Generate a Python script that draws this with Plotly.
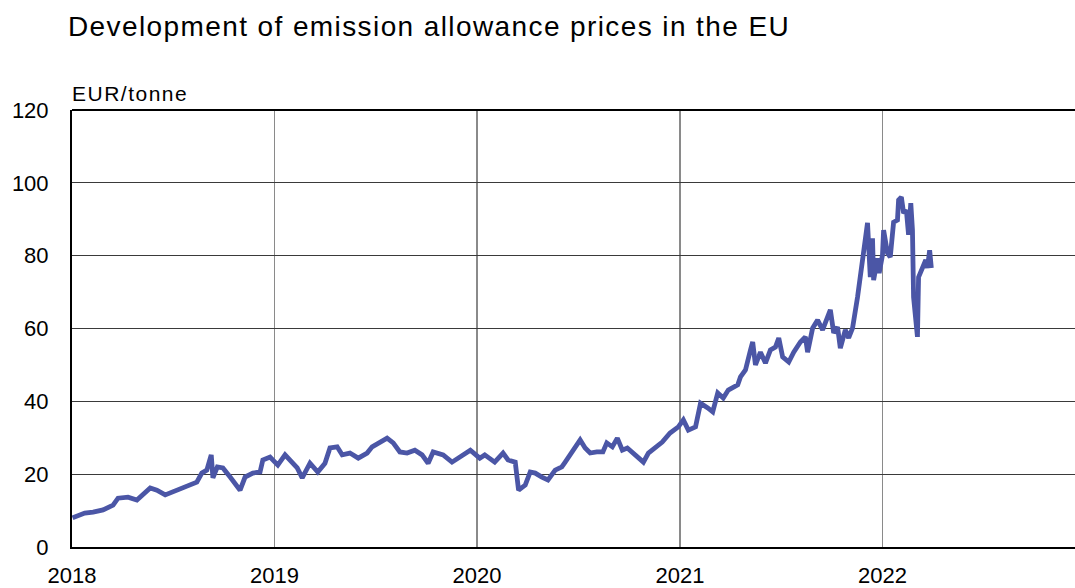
import plotly.graph_objects as go

dates = [
    "2018-01-02", "2018-01-24", "2018-02-08", "2018-02-26", "2018-03-16", "2018-03-25",
    "2018-04-12", "2018-04-28", "2018-05-22", "2018-06-03", "2018-06-18", "2018-07-09",
    "2018-07-27", "2018-08-14", "2018-08-23", "2018-09-01", "2018-09-09", "2018-09-12",
    "2018-09-20", "2018-09-30", "2018-10-13", "2018-10-31", "2018-11-09", "2018-11-23",
    "2018-12-06", "2018-12-11", "2018-12-24",
    "2019-01-07", "2019-01-20", "2019-02-02", "2019-02-11", "2019-02-20", "2019-03-06",
    "2019-03-20", "2019-04-02", "2019-04-11", "2019-04-24", "2019-05-03", "2019-05-17",
    "2019-06-01", "2019-06-17", "2019-06-26", "2019-07-10", "2019-07-23", "2019-08-03",
    "2019-08-15", "2019-08-28", "2019-09-11", "2019-09-24", "2019-10-05", "2019-10-14",
    "2019-11-01", "2019-11-17", "2019-12-02", "2019-12-20",
    "2020-01-06", "2020-01-15", "2020-02-02", "2020-02-17", "2020-02-26", "2020-03-10",
    "2020-03-16", "2020-03-28", "2020-04-06", "2020-04-15", "2020-04-27", "2020-05-08",
    "2020-05-21", "2020-06-02", "2020-06-08", "2020-06-17", "2020-06-29", "2020-07-05",
    "2020-07-14", "2020-07-23", "2020-08-04", "2020-08-15", "2020-08-22", "2020-09-01",
    "2020-09-10", "2020-09-19", "2020-09-28", "2020-10-08", "2020-10-21", "2020-10-27",
    "2020-11-05", "2020-11-17", "2020-11-30", "2020-12-14", "2020-12-29",
    "2021-01-07", "2021-01-16", "2021-01-29", "2021-02-07", "2021-02-20", "2021-03-01",
    "2021-03-10", "2021-03-20", "2021-03-29", "2021-04-15", "2021-04-20", "2021-04-29",
    "2021-05-08", "2021-05-12", "2021-05-17", "2021-05-26", "2021-06-04", "2021-06-13",
    "2021-06-22", "2021-06-28", "2021-07-05", "2021-07-16", "2021-07-25", "2021-08-06",
    "2021-08-15", "2021-08-19", "2021-08-28", "2021-09-06", "2021-09-15", "2021-09-24",
    "2021-09-29", "2021-10-05", "2021-10-12", "2021-10-17", "2021-10-26", "2021-11-01",
    "2021-11-08", "2021-11-17", "2021-11-22", "2021-11-28", "2021-12-05", "2021-12-10",
    "2021-12-14", "2021-12-16", "2021-12-23", "2021-12-26",
    "2022-01-01", "2022-01-03", "2022-01-10", "2022-01-15", "2022-01-19", "2022-01-21",
    "2022-01-28", "2022-01-30", "2022-02-04", "2022-02-08", "2022-02-13", "2022-02-17",
    "2022-02-21", "2022-02-24", "2022-02-26", "2022-03-05", "2022-03-07", "2022-03-14",
    "2022-03-20", "2022-03-23", "2022-03-27", "2022-03-30",
]

prices = [
    8.0, 9.3, 9.6, 10.2, 11.5, 13.4,
    13.7, 12.9, 16.2, 15.6, 14.3, 15.6,
    17.0, 17.8, 20.3, 21.1, 25.3, 19.0,
    22.0, 21.7, 19.2, 15.6, 19.2, 20.3,
    20.6, 23.9, 24.7,
    22.5, 25.3, 23.0, 21.7, 19.0, 23.0,
    20.6, 23.0, 27.2, 27.5, 25.3, 25.8,
    24.4, 25.8, 27.5, 28.8, 29.9, 28.6,
    26.1, 25.8, 26.6, 25.3, 23.0, 26.1,
    25.3, 23.3, 24.7, 26.6,
    24.4, 25.3, 23.3, 25.8, 23.9, 23.3,
    15.6, 17.0, 20.6, 20.3, 19.2, 18.4,
    21.1, 22.0, 23.3, 25.3, 27.5, 29.4,
    27.2, 25.8, 26.1, 26.1, 28.6, 27.5,
    29.9, 26.6, 27.2, 25.8, 24.4, 23.3,
    25.8, 27.2, 28.8, 31.3, 33.0,
    34.9, 32.1, 33.0, 39.5, 38.2, 37.1,
    42.3, 40.9, 43.1, 44.5, 46.7, 48.6,
    54.1, 56.3, 50.0, 53.5, 50.5, 54.1,
    54.9, 57.4, 52.2, 50.8, 53.5, 56.3,
    57.7, 53.5, 60.1, 62.3, 59.6, 63.7,
    65.1, 58.8, 60.4, 54.6, 59.6, 57.4,
    60.1, 68.6, 74.1, 79.6, 89.0, 74.1,
    84.8, 73.3, 79.3, 75.2,
    80.2, 87.0, 80.7, 79.6, 84.8, 89.2,
    89.8, 95.3, 96.1, 91.7, 92.5, 85.7,
    94.4, 87.0, 68.6, 57.7, 74.1, 76.9,
    78.8, 76.6, 81.5, 76.6,
]

year_ticks = ["2018-01-01", "2019-01-01", "2020-01-01", "2021-01-01", "2022-01-01"]
year_labels = ["2018", "2019", "2020", "2021", "2022"]
y_ticks = [0, 20, 40, 60, 80, 100, 120]

title_text = "Development of emission allowance prices in the EU"
unit_text = "EUR/tonne"

font_family = "Liberation Sans, Arial, sans-serif"

W, H = 1075, 588

fig = go.Figure()
fig.add_trace(go.Scatter(
    x=dates, y=prices, mode="lines",
    line=dict(color="#4B56A6", width=4.8),
    hoverinfo="skip", showlegend=False,
))

fig.update_layout(
    width=W, height=H,
    margin=dict(l=72, r=0, t=110, b=41),
    paper_bgcolor="white", plot_bgcolor="white",
    font=dict(family=font_family, color="black"),
    title=dict(
        text='<span style="letter-spacing:1.4px">' + title_text + '</span>',
        xref="container", yref="container",
        x=68 / W, xanchor="left", y=1 - 26 / H, yanchor="middle",
        font=dict(size=28, family=font_family, color="black"),
    ),
    annotations=[dict(
        text='<span style="letter-spacing:1.5px">' + unit_text + '</span>',
        xref="paper", yref="paper", x=0, y=1,
        xanchor="left", yanchor="middle", yshift=17, xshift=-2,
        showarrow=False, font=dict(size=21, family=font_family, color="black"),
    )],
)

fig.update_xaxes(
    type="date", range=["2018-01-01", "2022-12-14"],
    tickvals=year_ticks, ticktext=year_labels,
    showgrid=True, gridcolor="#8a8a8a", gridwidth=1.5,
    showline=True, linecolor="black", linewidth=2,
    ticks="", ticklabelstandoff=8, automargin=False,
    tickfont=dict(size=22, family=font_family, color="black"),
    zeroline=False,
)
fig.update_yaxes(
    range=[0, 120], tickvals=y_ticks,
    showgrid=True, gridcolor="#3a3a3a", gridwidth=1,
    showline=True, linecolor="black", linewidth=2,
    ticks="", ticklabelstandoff=17, automargin=False,
    tickfont=dict(size=22, family=font_family, color="black"),
    zeroline=False,
)

fig.add_shape(type="line", xref="paper", yref="paper", x0=0, x1=1, y0=1, y1=1,
              line=dict(color="black", width=2))

# remove the default 8px body margin so the figure fills the window exactly
fig.write_html(
    "out.html",
    config={"displayModeBar": False, "staticPlot": True},
    post_script="document.body.style.margin='0';document.body.style.overflow='hidden';",
)
